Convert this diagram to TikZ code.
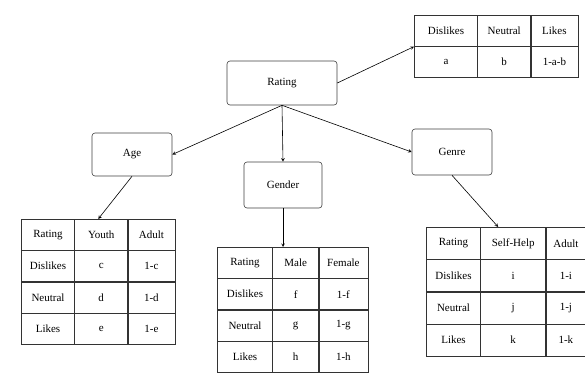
\documentclass[tikz,border=0pt]{standalone}
\usepackage{fontspec}
\setmainfont{Liberation Serif}
\usepackage{tikz}
\usetikzlibrary{positioning,matrix}
\tikzset{c-box/.style={rectangle, rounded corners=3pt, minimum width=80pt, minimum height=44pt, text centered, draw=black!75, semithick, fill=white},
c-cell/.style={rectangle, draw=black!80, semithick, minimum height=31pt, inner sep=1pt, anchor=center},
c-table/.style={matrix of nodes, inner sep=0pt, anchor=north west, column sep=-\pgflinewidth, row sep=-\pgflinewidth, nodes={c-cell}},
arrow/.style={semithick,->,>=stealth}}

\begin{document}
\begin{tikzpicture}[x=1pt, y=1pt, font=\fontsize{11}{13}\selectfont]
\useasboundingbox (0,0) rectangle (585,376);
\node (n0) [c-box, minimum width=110pt] at (282,293) {Rating};
\node (n1) [c-box, minimum height=43pt] at (132,221.5) {Age};
\node (n2) [c-box, minimum width=78pt, minimum height=46pt] at (283,191) {Gender};
\node (n3) [c-box, minimum height=46pt] at (452,224) {Genre};
% rating table
\matrix (t0) [c-table, column 1/.style={nodes={minimum width=63pt}}, column 2/.style={nodes={minimum width=53pt}}, column 3/.style={nodes={minimum width=47pt}}] at (414,361) {
Dislikes & Neutral & Likes \\
a & b & 1-a-b \\
};
% age table
\matrix (t1) [c-table, column 1/.style={nodes={minimum width=53pt}}, column 2/.style={nodes={minimum width=53pt}}, column 3/.style={nodes={minimum width=47pt}}] at (21,157) {
Rating & Youth & Adult \\
Dislikes & c & 1-c \\
Neutral & d & 1-d \\
Likes & e & 1-e \\
};
% gender table
\matrix (t2) [c-table, column 1/.style={nodes={minimum width=55pt}}, column 2/.style={nodes={minimum width=46pt}}, column 3/.style={nodes={minimum width=49pt}}] at (217,129) {
Rating & Male & Female \\
Dislikes & f & 1-f \\
Neutral & g & 1-g \\
Likes & h & 1-h \\
};
% genre table
\matrix (t3) [c-table, nodes={minimum height=32pt}, column 1/.style={nodes={minimum width=54pt}}, column 2/.style={nodes={minimum width=65pt}}, column 3/.style={nodes={minimum width=40pt}}] at (426,149) {
Rating & Self-Help & Adult \\
Dislikes & i & 1-i \\
Neutral & j & 1-j \\
Likes & k & 1-k \\
};
\draw [arrow] (n0.east) -- (t0.west);
\draw [arrow] (n0.south) -- (n1.east);
\draw [arrow] (n0.south) -- (n2.north);
\draw [arrow] (n0.south) -- (n3.west);
\draw [arrow] (n1.south) -- (t1.north);
\draw [arrow] (n2.south) -- (n2.south |- t2.north);
\draw [arrow] (n3.south) -- ([xshift=-8pt]t3.north);
\end{tikzpicture}
\end{document}
